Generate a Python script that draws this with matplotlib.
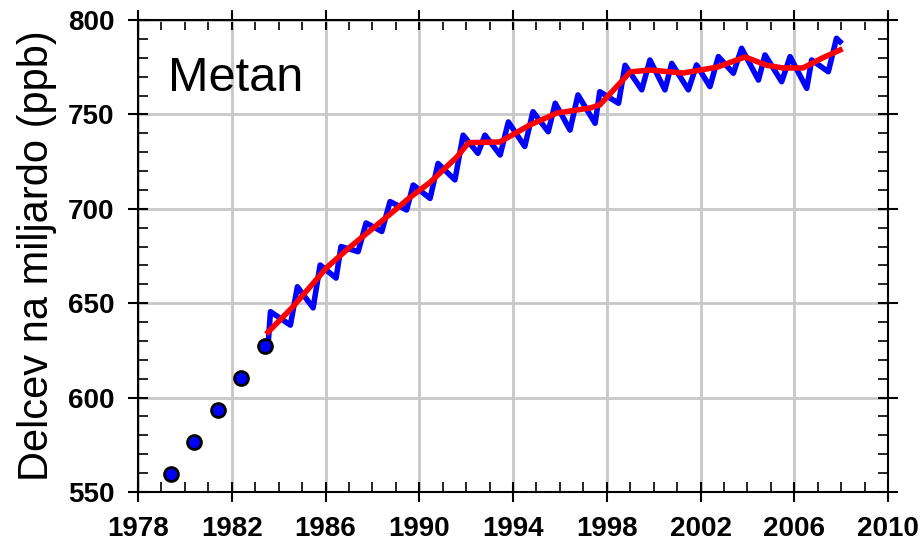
import matplotlib.pyplot as plt
from matplotlib.ticker import MultipleLocator

plt.rcParams['font.family'] = ['Liberation Sans', 'DejaVu Sans']

# early annual values (dots)
dot_year = [1979.4, 1980.4, 1981.4, 1982.4, 1983.4]
dot_ppb = [559.5, 576.5, 593.4, 610.4, 627.3]

# monthly record, read as alternating seasonal highs / lows
blue_year = [1983.55, 1983.65, 1984.5, 1984.8, 1985.47, 1985.77, 1986.45, 1986.66,
             1987.39, 1987.73, 1988.4, 1988.75, 1989.46, 1989.74, 1990.46, 1990.8,
             1991.52, 1991.87, 1992.5, 1992.8, 1993.45, 1993.8, 1994.5, 1994.85,
             1995.5, 1995.8, 1996.43, 1996.77, 1997.5, 1997.7, 1998.5, 1998.78,
             1999.49, 1999.84, 2000.48, 2000.77, 2001.48, 2001.83, 2002.4, 2002.76,
             2003.4, 2003.75, 2004.47, 2004.75, 2005.46, 2005.82, 2006.53, 2006.74,
             2007.45, 2007.8, 2007.95]
blue_ppb = [628, 645.5, 638.4, 658.7, 647.5, 670.2, 663.3, 680,
            677.3, 692.5, 688, 703.8, 699.4, 712.6, 705.5, 724,
            715.3, 739, 729.4, 739, 728.5, 746, 733, 751.4,
            740.8, 755.9, 741.7, 760.3, 745.3, 762, 755.9, 776,
            763, 778.8, 763, 777, 763, 776.2, 764.7, 780.6,
            771.8, 785, 768.2, 781.5, 767.3, 780.6, 763.8, 778.8,
            772.6, 790.3, 788.5]

# smoothed trend
trend_year = [1983.55, 1984.6, 1986.06, 1987.05, 1988.45, 1989.6, 1990.46, 1991.6,
              1992.1, 1993.44, 1994.72, 1995.87, 1997.28, 1997.7, 1999.0, 1999.84,
              2001.25, 2002.7, 2003.9, 2004.83, 2005.5, 2006.37, 2007.2, 2007.95]
trend_ppb = [634.7, 648, 669, 679.8, 694, 706, 714, 727.4,
             735, 735.4, 744.4, 750.7, 753.4, 755, 772.5, 773.5,
             771.9, 775, 780.4, 776, 774.6, 774.6, 779.9, 784.1]

year_ticks = list(range(1978, 2011, 4))

fig = plt.figure(figsize=(9.22, 5.46), dpi=100)
ax = fig.add_axes([0.1497, 0.0989, 0.8135, 0.8645])

ax.plot(blue_year, blue_ppb, color='#0000ff', lw=4, zorder=3)
ax.plot(trend_year, trend_ppb, color='#ff0000', lw=4, zorder=4)
ax.plot(dot_year, dot_ppb, 'o', color='#0000ff', markeredgecolor='black',
        markeredgewidth=2, markersize=10, zorder=5)

ax.set_xlim(1978, 2010)
ax.set_ylim(550, 800)
ax.set_xticks(year_ticks)
ax.xaxis.set_minor_locator(MultipleLocator(1))
ax.yaxis.set_major_locator(MultipleLocator(50))
ax.yaxis.set_minor_locator(MultipleLocator(10))
ax.grid(True, which='major', color='#c8c8c8', lw=2, zorder=0)

ax.tick_params(which='major', direction='inout', length=14, width=1.5,
               top=True, right=True, labelsize=20, pad=10)
ax.tick_params(which='minor', direction='in', length=7, width=1.2, top=True, right=True)
for lab in ax.get_xticklabels() + ax.get_yticklabels():
    lab.set_fontweight('bold')
for s in ax.spines.values():
    s.set_linewidth(1.5)

ax.set_ylabel('Delcev na miljardo (ppb)', fontsize=30, labelpad=8)
ax.text(0.04, 0.875, 'Metan', transform=ax.transAxes, fontsize=35, va='center')

fig.savefig('out.png', dpi=100)
